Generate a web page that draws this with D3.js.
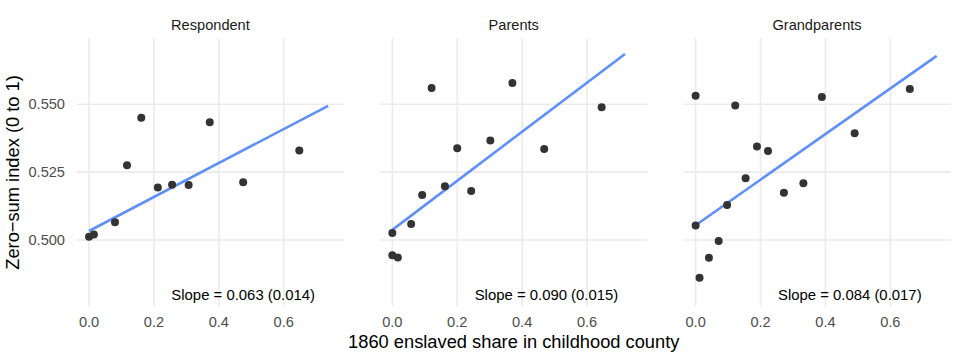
<!DOCTYPE html>
<html>
<head>
<meta charset="utf-8">
<script src="https://cdn.jsdelivr.net/npm/d3@7"></script>
<style>
  body { margin: 0; background: #fff; }
  text { font-family: "Liberation Sans", Arial, sans-serif; }
</style>
</head>
<body>
<div id="chart"></div>
<script>
const facets = ["Respondent", "Parents", "Grandparents"];

const respondentX = [0.0, 0.015, 0.08, 0.117, 0.161, 0.212, 0.256, 0.307, 0.372, 0.475, 0.648];
const respondentY = [0.5012, 0.502, 0.5065, 0.5275, 0.545, 0.5193, 0.5203, 0.5202, 0.5434, 0.5213, 0.533];

const parentsX = [0.0, 0.0, 0.017, 0.058, 0.092, 0.121, 0.162, 0.2, 0.243, 0.302, 0.37, 0.468, 0.645];
const parentsY = [0.5026, 0.4944, 0.4935, 0.5059, 0.5166, 0.556, 0.5198, 0.5338, 0.518, 0.5366, 0.5578, 0.5335, 0.5489];

const grandparentsX = [0.0, 0.122, 0.0, 0.012, 0.041, 0.071, 0.097, 0.154, 0.189, 0.223, 0.272, 0.332, 0.389, 0.49, 0.66];
const grandparentsY = [0.5531, 0.5495, 0.5053, 0.4861, 0.4934, 0.4996, 0.5129, 0.5227, 0.5344, 0.5328, 0.5174, 0.5209, 0.5527, 0.5393, 0.5556];

// fitted lines
const fitIntercept = [0.5033, 0.5037, 0.5054];
const fitSlope = [0.0626, 0.0904, 0.084];
const fitXmax = [0.737, 0.717, 0.743];
const slopeLabels = ["Slope = 0.063 (0.014)", "Slope = 0.090 (0.015)", "Slope = 0.084 (0.017)"];

const xTicks = [0, 0.2, 0.4, 0.6];
const yTicks = [0.5, 0.525, 0.55];

const pointsX = [respondentX, parentsX, grandparentsX];
const pointsY = [respondentY, parentsY, grandparentsY];

const width = 960, height = 360;
const panelLeft = [76.7, 380, 683.3];
const panelW = 267.5;
const plotTop = 38.3, plotBottom = 306.7;

const svg = d3.select("#chart").append("svg")
  .attr("width", width)
  .attr("height", height);

const yScale = d3.scaleLinear().domain([0.4754, 0.5743]).range([plotBottom, plotTop]);

facets.forEach((name, i) => {
  const x0 = panelLeft[i];
  const xScale = d3.scaleLinear().domain([-0.038, 0.7863]).range([x0, x0 + panelW]);
  const g = svg.append("g");

  // grid
  g.selectAll(".vgrid").data(xTicks).enter().append("line")
    .attr("x1", d => xScale(d)).attr("x2", d => xScale(d))
    .attr("y1", plotTop).attr("y2", plotBottom)
    .attr("stroke", "#ebebeb").attr("stroke-width", 1.6);
  g.selectAll(".hgrid").data(yTicks).enter().append("line")
    .attr("x1", x0).attr("x2", x0 + panelW)
    .attr("y1", d => yScale(d)).attr("y2", d => yScale(d))
    .attr("stroke", "#ebebeb").attr("stroke-width", 1.6);

  // x tick labels
  g.selectAll(".xt").data(xTicks).enter().append("text")
    .attr("x", d => xScale(d)).attr("y", 327)
    .attr("text-anchor", "middle")
    .attr("font-size", 14.6).attr("fill", "#4d4d4d")
    .text(d3.format(".1f"));

  // strip title
  g.append("text")
    .attr("x", x0 + panelW / 2).attr("y", 29.5)
    .attr("text-anchor", "middle")
    .attr("font-size", 14.6).attr("fill", "#1a1a1a")
    .text(name);

  // fit line
  const line = d3.line().x(d => xScale(d)).y(d => yScale(fitIntercept[i] + fitSlope[i] * d));
  g.append("path")
    .attr("d", line([0, fitXmax[i]]))
    .attr("fill", "none")
    .attr("stroke", "#5f8ff9")
    .attr("stroke-width", 2.6);

  // points
  g.selectAll("circle").data(d3.range(pointsX[i].length)).enter().append("circle")
    .attr("cx", j => xScale(pointsX[i][j]))
    .attr("cy", j => yScale(pointsY[i][j]))
    .attr("r", 4)
    .attr("fill", "#333333");

  // slope annotation
  g.append("text")
    .attr("x", xScale(0.475)).attr("y", yScale(0.4797))
    .attr("dy", "0.35em")
    .attr("text-anchor", "middle")
    .attr("font-size", 14.9).attr("fill", "#000")
    .text(slopeLabels[i]);
});

// y tick labels (first panel only)
svg.selectAll(".yt").data(yTicks).enter().append("text")
  .attr("x", 65).attr("y", d => yScale(d))
  .attr("dy", "0.35em")
  .attr("text-anchor", "end")
  .attr("font-size", 14.6).attr("fill", "#4d4d4d")
  .text(d3.format(".3f"));

// axis titles
svg.append("text")
  .attr("x", (panelLeft[0] + panelLeft[2] + panelW) / 2).attr("y", 348)
  .attr("text-anchor", "middle")
  .attr("font-size", 18.3).attr("fill", "#000")
  .text("1860 enslaved share in childhood county");

svg.append("text")
  .attr("transform", "translate(19," + (plotTop + plotBottom) / 2 + ") rotate(-90)")
  .attr("text-anchor", "middle")
  .attr("font-size", 18.3).attr("fill", "#000")
  .text("Zero\u2212sum index (0 to 1)");
</script>
</body>
</html>
